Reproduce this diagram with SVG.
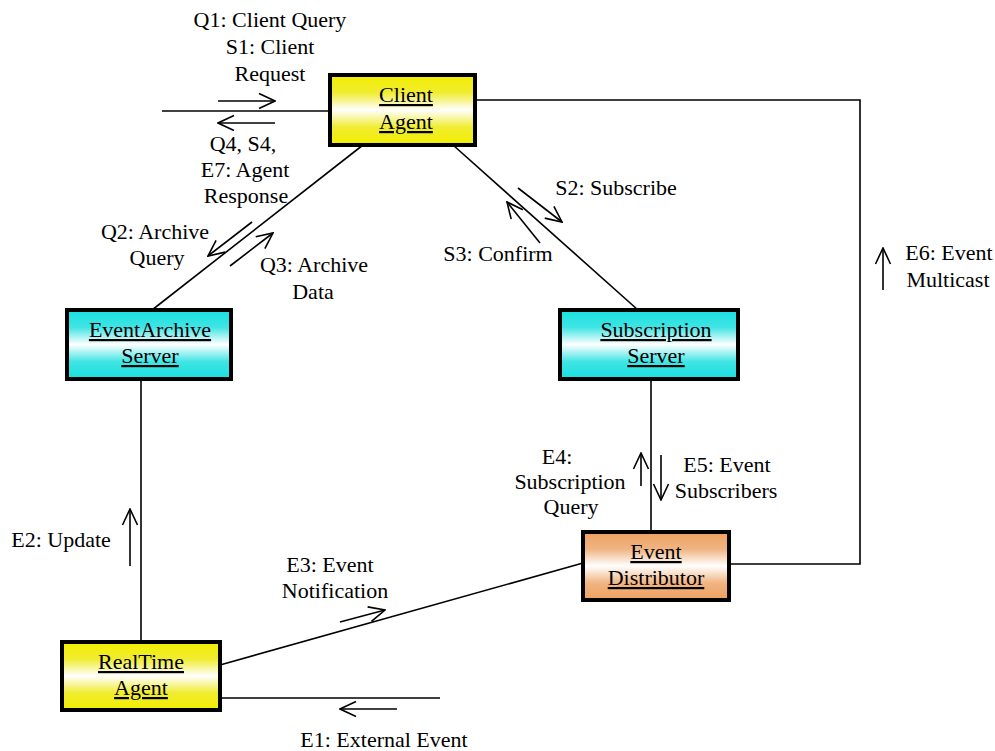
<svg xmlns="http://www.w3.org/2000/svg" width="995" height="751" viewBox="0 0 995 751">
  <defs>
    <linearGradient id="gYellow" x1="0" y1="0" x2="0" y2="1">
      <stop offset="0" stop-color="#f2ee00"/>
      <stop offset="0.25" stop-color="#f0ec30"/>
      <stop offset="0.5" stop-color="#ffffff"/>
      <stop offset="0.75" stop-color="#f0ec30"/>
      <stop offset="1" stop-color="#f2ee00"/>
    </linearGradient>
    <linearGradient id="gCyan" x1="0" y1="0" x2="0" y2="1">
      <stop offset="0" stop-color="#18e0e0"/>
      <stop offset="0.25" stop-color="#40e4e4"/>
      <stop offset="0.5" stop-color="#ffffff"/>
      <stop offset="0.75" stop-color="#40e4e4"/>
      <stop offset="1" stop-color="#18e0e0"/>
    </linearGradient>
    <linearGradient id="gOrange" x1="0" y1="0" x2="0" y2="1">
      <stop offset="0" stop-color="#eea060"/>
      <stop offset="0.25" stop-color="#f0b482"/>
      <stop offset="0.5" stop-color="#ffffff"/>
      <stop offset="0.75" stop-color="#f0b482"/>
      <stop offset="1" stop-color="#eea060"/>
    </linearGradient>
    <marker id="open" viewBox="0 0 18 18" refX="17" refY="9" markerWidth="18" markerHeight="18" markerUnits="userSpaceOnUse" orient="auto">
      <path d="M1,1.5 L17,9 L1,16.5" fill="none" stroke="#000" stroke-width="1.6"/>
    </marker>
  </defs>
  <style>
    .box { stroke: #000; stroke-width: 4; }
    .name { font-family: "Liberation Serif", "Times New Roman", serif; font-size: 22px; text-anchor: middle; text-decoration: underline; fill: #000; }
    .lbl { font-family: "Liberation Serif", "Times New Roman", serif; font-size: 22px; text-anchor: middle; fill: #000; }
    .wire { fill: none; stroke: #000; stroke-width: 1.6; }
    .msg { fill: none; stroke: #000; stroke-width: 1.6; marker-end: url(#open); }
  </style>

  <rect width="995" height="751" fill="#fff"/>

  <!-- links between objects -->
  <g id="connectors">
    <line class="wire" x1="162" y1="111" x2="330" y2="111"/>
    <polyline class="wire" points="475,100 860,100 860,564 729,564"/>
    <line class="wire" x1="363" y1="145" x2="152" y2="310"/>
    <line class="wire" x1="453" y1="145" x2="638" y2="310"/>
    <line class="wire" x1="141" y1="379" x2="141" y2="642"/>
    <line class="wire" x1="651" y1="379" x2="651" y2="532"/>
    <line class="wire" x1="220" y1="665" x2="583" y2="563"/>
    <line class="wire" x1="220" y1="698" x2="440" y2="698"/>
  </g>

  <!-- message arrows -->
  <g id="messages">
    <line class="msg" x1="218" y1="101" x2="275" y2="101"/>
    <line class="msg" x1="275" y1="123" x2="218" y2="123"/>
    <line class="msg" x1="252" y1="222" x2="208" y2="256"/>
    <line class="msg" x1="230" y1="266" x2="273" y2="233"/>
    <line class="msg" x1="518" y1="188" x2="562" y2="222"/>
    <line class="msg" x1="540" y1="243" x2="507" y2="202"/>
    <line class="msg" x1="641" y1="486" x2="641" y2="453"/>
    <line class="msg" x1="661" y1="455" x2="661" y2="500"/>
    <line class="msg" x1="130" y1="566" x2="130" y2="509"/>
    <line class="msg" x1="340" y1="622" x2="385" y2="610"/>
    <line class="msg" x1="397" y1="709" x2="340" y2="709"/>
    <line class="msg" x1="883" y1="290" x2="883" y2="248"/>
  </g>

  <!-- message labels -->
  <g id="labels">
    <text class="lbl" x="270" y="27">Q1: Client Query</text>
    <text class="lbl" x="270" y="54">S1: Client</text>
    <text class="lbl" x="270" y="81">Request</text>
    <text class="lbl" x="243" y="151">Q4, S4,</text>
    <text class="lbl" x="245" y="177">E7: Agent</text>
    <text class="lbl" x="246" y="203">Response</text>
    <text class="lbl" x="155" y="239">Q2: Archive</text>
    <text class="lbl" x="157" y="265">Query</text>
    <text class="lbl" x="314" y="272">Q3: Archive</text>
    <text class="lbl" x="313" y="299">Data</text>
    <text class="lbl" x="616" y="195">S2: Subscribe</text>
    <text class="lbl" x="498" y="261">S3: Confirm</text>
    <text class="lbl" x="949" y="260">E6: Event</text>
    <text class="lbl" x="948" y="287">Multicast</text>
    <text class="lbl" x="557" y="464">E4:</text>
    <text class="lbl" x="570" y="489">Subscription</text>
    <text class="lbl" x="571" y="514">Query</text>
    <text class="lbl" x="727" y="472">E5: Event</text>
    <text class="lbl" x="726" y="498">Subscribers</text>
    <text class="lbl" x="61" y="547">E2: Update</text>
    <text class="lbl" x="330" y="572">E3: Event</text>
    <text class="lbl" x="335" y="598">Notification</text>
    <text class="lbl" x="384" y="747">E1: External Event</text>
  </g>

  <g id="client-agent">
    <rect class="box" x="330" y="75" width="145" height="70" fill="url(#gYellow)"/>
    <text class="name" x="406" y="102">Client</text>
    <text class="name" x="406" y="129">Agent</text>
  </g>

  <g id="eventarchive-server">
    <rect class="box" x="67" y="310" width="164" height="69" fill="url(#gCyan)"/>
    <text class="name" x="150" y="337">EventArchive</text>
    <text class="name" x="150" y="363">Server</text>
  </g>

  <g id="subscription-server">
    <rect class="box" x="560" y="310" width="178" height="69" fill="url(#gCyan)"/>
    <text class="name" x="656" y="337">Subscription</text>
    <text class="name" x="656" y="363">Server</text>
  </g>

  <g id="event-distributor">
    <rect class="box" x="583" y="532" width="146" height="68" fill="url(#gOrange)"/>
    <text class="name" x="656" y="559">Event</text>
    <text class="name" x="656" y="585">Distributor</text>
  </g>

  <g id="realtime-agent">
    <rect class="box" x="62" y="642" width="158" height="68" fill="url(#gYellow)"/>
    <text class="name" x="141" y="669">RealTime</text>
    <text class="name" x="141" y="695">Agent</text>
  </g>
</svg>
